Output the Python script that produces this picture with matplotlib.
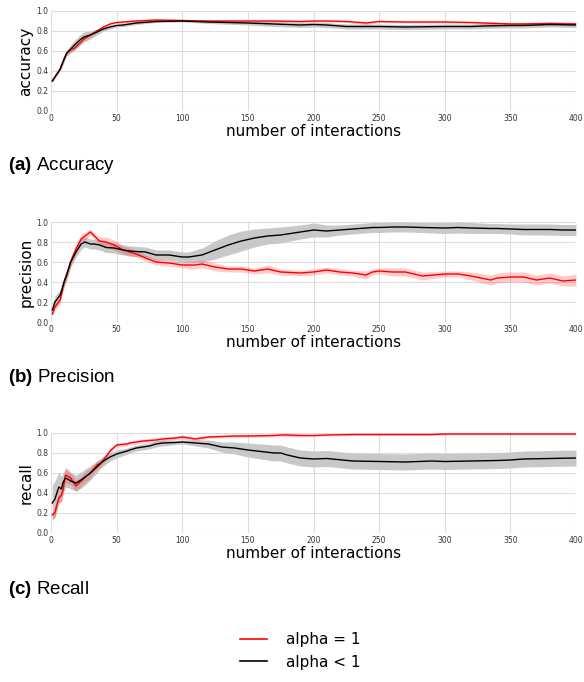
import numpy as np
import matplotlib
matplotlib.use("Agg")
import matplotlib.pyplot as plt
from matplotlib.lines import Line2D

plt.rcParams['mathtext.fontset'] = 'custom'
plt.rcParams['mathtext.bf'] = 'Liberation Sans:bold'
plt.rcParams['mathtext.rm'] = 'Liberation Sans'

# --- data ---
# accuracy
acc_x = [1, 4, 7, 10, 12, 15, 18, 22, 25, 30, 35, 40, 45, 50, 55, 65, 80, 100, 120, 150, 170, 190,
         200, 210, 225, 240, 250, 270, 300, 320, 330, 350, 360, 380, 400]
acc_red = [0.30, 0.36, 0.42, 0.52, 0.58, 0.61, 0.63, 0.68, 0.72, 0.76, 0.80, 0.84, 0.87, 0.885, 0.89, 0.90, 0.91, 0.905, 0.90, 0.90, 0.90, 0.895,
           0.90, 0.90, 0.895, 0.88, 0.895, 0.89, 0.89, 0.885, 0.88, 0.87, 0.87, 0.875, 0.87]
acc_red_sd = [0.01, 0.01, 0.01, 0.02, 0.02, 0.02, 0.02, 0.02, 0.02, 0.02, 0.02, 0.015, 0.01, 0.01, 0.01, 0.01, 0.01, 0.01, 0.01, 0.01, 0.01, 0.01,
              0.01, 0.01, 0.01, 0.015, 0.01, 0.01, 0.01, 0.01, 0.015, 0.015, 0.015, 0.015, 0.015]
acc_blk = [0.30, 0.36, 0.42, 0.52, 0.58, 0.62, 0.66, 0.71, 0.74, 0.76, 0.79, 0.82, 0.84, 0.855, 0.86, 0.88, 0.895, 0.90, 0.89, 0.88, 0.87, 0.86,
           0.865, 0.86, 0.845, 0.845, 0.845, 0.84, 0.845, 0.845, 0.85, 0.855, 0.855, 0.865, 0.86]
acc_blk_sd = [0.01, 0.01, 0.02, 0.03, 0.03, 0.04, 0.05, 0.05, 0.05, 0.04, 0.03, 0.02, 0.02, 0.015, 0.015, 0.015, 0.01, 0.01, 0.015, 0.02, 0.025, 0.025,
              0.025, 0.025, 0.025, 0.025, 0.025, 0.025, 0.025, 0.025, 0.025, 0.025, 0.025, 0.025, 0.025]

# precision
pre_x = [1, 3, 7, 10, 12, 15, 19, 23, 26, 30, 33, 37, 42, 48, 55, 60, 65, 72, 80, 90, 100, 105, 110, 115, 125, 135, 145,
         155, 165, 175, 190, 200, 210, 220, 230, 240, 245, 250, 260, 270, 283, 300, 310, 320, 335, 340, 350, 360, 370, 380, 390, 400]
pre_red = [0.08, 0.15, 0.22, 0.40, 0.48, 0.60, 0.73, 0.83, 0.86, 0.90, 0.86, 0.81, 0.80, 0.77, 0.72, 0.70, 0.68, 0.64, 0.60, 0.59, 0.57, 0.57, 0.57, 0.58, 0.55, 0.53, 0.53,
           0.51, 0.53, 0.50, 0.49, 0.50, 0.52, 0.50, 0.49, 0.47, 0.50, 0.51, 0.50, 0.50, 0.46, 0.48, 0.48, 0.46, 0.42, 0.44, 0.45, 0.45, 0.42, 0.44, 0.41, 0.42]
pre_red_sd = [0.03, 0.03, 0.04, 0.05, 0.05, 0.05, 0.05, 0.05, 0.04, 0.03, 0.03, 0.04, 0.05, 0.05, 0.04, 0.04, 0.03, 0.03, 0.03, 0.03, 0.03, 0.04, 0.04, 0.04, 0.04, 0.03, 0.03,
              0.03, 0.04, 0.03, 0.03, 0.03, 0.03, 0.03, 0.03, 0.04, 0.03, 0.03, 0.04, 0.04, 0.04, 0.03, 0.03, 0.04, 0.05, 0.05, 0.05, 0.05, 0.05, 0.05, 0.05, 0.06]
pre_blk = [0.12, 0.20, 0.27, 0.40, 0.47, 0.60, 0.70, 0.78, 0.80, 0.78, 0.78, 0.77, 0.745, 0.74, 0.72, 0.71, 0.705, 0.70, 0.67, 0.67, 0.65, 0.65, 0.66, 0.67, 0.72, 0.77, 0.81,
           0.84, 0.86, 0.87, 0.90, 0.92, 0.91, 0.92, 0.93, 0.94, 0.945, 0.945, 0.95, 0.95, 0.945, 0.94, 0.945, 0.94, 0.935, 0.935, 0.93, 0.925, 0.925, 0.925, 0.92, 0.92]
pre_blk_sd = [0.05, 0.06, 0.05, 0.05, 0.05, 0.05, 0.05, 0.05, 0.05, 0.05, 0.05, 0.05, 0.05, 0.05, 0.05, 0.05, 0.05, 0.05, 0.05, 0.05, 0.05, 0.05, 0.06, 0.07, 0.09, 0.10, 0.10,
              0.09, 0.08, 0.08, 0.07, 0.07, 0.06, 0.05, 0.05, 0.05, 0.05, 0.05, 0.05, 0.05, 0.05, 0.055, 0.055, 0.055, 0.05, 0.05, 0.05, 0.055, 0.055, 0.055, 0.055, 0.055]

# recall
rec_x = [1, 3, 4, 6, 8, 9, 11, 14, 15, 19, 23, 26, 30, 35, 38, 40, 45, 50, 58, 60, 65, 70, 75, 80, 85, 95, 100, 110, 120, 130, 140,
         150, 170, 175, 180, 190, 200, 210, 230, 250, 270, 290, 300, 320, 340, 350, 360, 380, 400]
rec_red = [0.18, 0.20, 0.26, 0.35, 0.38, 0.42, 0.58, 0.56, 0.55, 0.47, 0.52, 0.56, 0.60, 0.68, 0.70, 0.73, 0.82, 0.88, 0.89, 0.90, 0.91, 0.92, 0.925, 0.93, 0.94, 0.95, 0.96, 0.94, 0.96, 0.965, 0.97,
           0.97, 0.975, 0.98, 0.98, 0.975, 0.975, 0.98, 0.985, 0.985, 0.985, 0.985, 0.99, 0.99, 0.99, 0.99, 0.99, 0.99, 0.99]
rec_red_sd = [0.03, 0.05, 0.06, 0.06, 0.07, 0.07, 0.08, 0.07, 0.06, 0.06, 0.05, 0.05, 0.05, 0.04, 0.04, 0.03, 0.03, 0.02, 0.02, 0.02, 0.02, 0.02, 0.02, 0.02, 0.02, 0.02, 0.02, 0.02, 0.015, 0.015, 0.015,
              0.015, 0.015, 0.015, 0.02, 0.015, 0.01, 0.01, 0.01, 0.01, 0.01, 0.01, 0.01, 0.01, 0.01, 0.01, 0.01, 0.01, 0.01]
rec_blk = [0.30, 0.34, 0.38, 0.46, 0.44, 0.50, 0.55, 0.53, 0.52, 0.50, 0.53, 0.56, 0.60, 0.66, 0.70, 0.72, 0.76, 0.79, 0.82, 0.83, 0.85, 0.86, 0.87, 0.89, 0.90, 0.905, 0.91, 0.90, 0.89, 0.86, 0.85,
           0.83, 0.80, 0.80, 0.78, 0.75, 0.74, 0.745, 0.72, 0.715, 0.71, 0.72, 0.715, 0.72, 0.725, 0.73, 0.74, 0.745, 0.75]
rec_blk_sd = [0.18, 0.18, 0.17, 0.15, 0.12, 0.10, 0.09, 0.08, 0.08, 0.08, 0.08, 0.08, 0.07, 0.06, 0.05, 0.05, 0.04, 0.04, 0.03, 0.03, 0.03, 0.03, 0.03, 0.03, 0.03, 0.02, 0.02, 0.03, 0.04, 0.05, 0.06,
              0.07, 0.08, 0.08, 0.08, 0.08, 0.08, 0.08, 0.08, 0.08, 0.08, 0.08, 0.08, 0.08, 0.08, 0.08, 0.08, 0.08, 0.08]

panels = [
    ('accuracy', r'$\bf{(a)}$ Accuracy', acc_x, acc_red, acc_red_sd, acc_blk, acc_blk_sd),
    ('precision', r'$\bf{(b)}$ Precision', pre_x, pre_red, pre_red_sd, pre_blk, pre_blk_sd),
    ('recall', r'$\bf{(c)}$ Recall', rec_x, rec_red, rec_red_sd, rec_blk, rec_blk_sd),
]

fig = plt.figure(figsize=(5.84, 6.82), dpi=100)
W, H = 584.0, 682.0
ax_tops = [11, 222, 433]
caption_y = [166, 378, 589]

for i, (ylab, cap, x, r, rs, b, bs) in enumerate(panels):
    top = ax_tops[i]
    ax = fig.add_axes([51 / W, 1 - (top + 100) / H, 525 / W, 100 / H])
    x = np.array(x); r = np.array(r); rs = np.array(rs); b = np.array(b); bs = np.array(bs)
    ax.fill_between(x, b - bs, b + bs, color='#c8c8c8', lw=0)
    ax.fill_between(x, r - rs, r + rs, color='red', alpha=0.2, lw=0)
    ax.plot(x, r, color='red', lw=1.0)
    ax.plot(x, b, color='black', lw=1.0)
    ax.set_xlim(0, 400)
    ax.set_ylim(0, 1)
    ax.set_xticks(np.arange(0, 401, 50))
    ax.set_yticks(np.arange(0, 1.01, 0.2))
    ax.set_yticklabels(['%.1f' % v for v in np.arange(0, 1.01, 0.2)])
    ax.tick_params(length=0, labelsize=5.5, colors='#333333', pad=2)
    for s in ax.spines.values():
        s.set_visible(False)
    ax.grid(True, color='#dddddd', lw=0.8)
    ax.set_axisbelow(True)
    ax.set_ylabel(ylab, fontsize=11, labelpad=2)
    ax.set_xlabel('number of interactions', fontsize=11, labelpad=1)
    fig.text(8 / W, 1 - caption_y[i] / H, cap, fontsize=13.5, family='Liberation Sans', va='center', ha='left')

handles = [Line2D([], [], color='red', lw=1.2), Line2D([], [], color='black', lw=1.2)]
fig.legend(handles, ['alpha = 1', 'alpha < 1'], loc='center', bbox_to_anchor=(300 / W, 1 - 651 / H),
           frameon=False, fontsize=11, handlelength=1.8, handletextpad=1.2, labelspacing=0.5)

fig.savefig('out.png', dpi=100)
